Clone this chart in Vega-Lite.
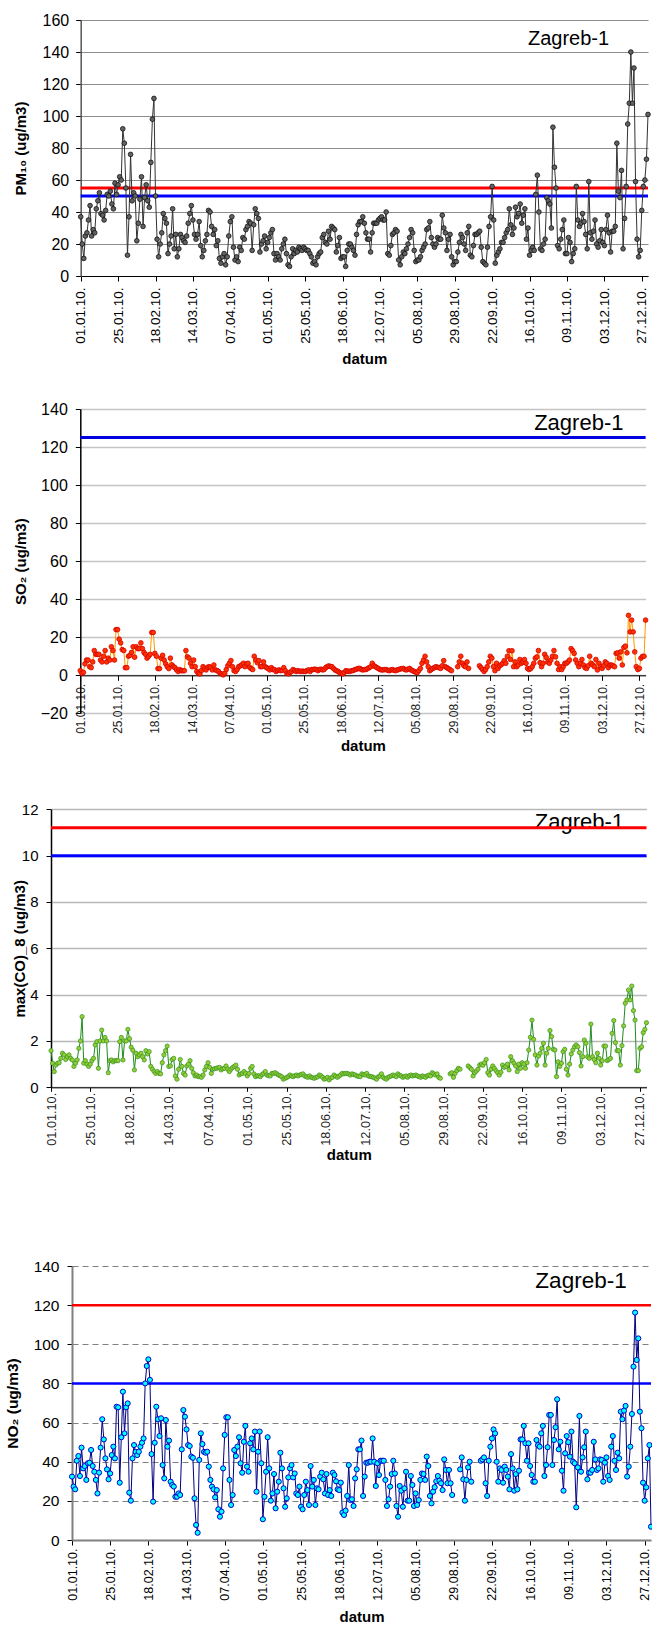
{
  "$schema": "https://vega.github.io/schema/vega-lite/v6.json",
  "width": 652,
  "height": 1625,
  "autosize": {"type": "none"},
  "padding": 0,
  "background": "white",
  "config": {
    "font": "Liberation Sans",
    "view": {"stroke": null},
    "axis": {
      "labelFont": "Liberation Sans",
      "titleFont": "Liberation Sans",
      "labelColor": "#000000",
      "titleColor": "#000000",
      "tickColor": "#000000",
      "domainColor": "#000000",
      "labelOverlap": false
    }
  },
  "data": {
    "values": [
      {"d":"2010-01-01","pm":37,"so":2.4,"co":1.58,"no":32.4},
      {"d":"2010-01-02","pm":20,"so":1,"co":1.04,"no":27.3},
      {"d":"2010-01-03","pm":11,"so":1.5,"co":0.68,"no":25.9},
      {"d":"2010-01-04","pm":25,"so":6,"co":0.96,"no":40.5},
      {"d":"2010-01-05","pm":27,"so":8,"co":1.04,"no":42.9},
      {"d":"2010-01-06","pm":35,"so":8,"co":1.06,"no":32.7},
      {"d":"2010-01-07","pm":44,"so":4.5,"co":1.25,"no":47.2},
      {"d":"2010-01-08","pm":25,"so":4,"co":1.47,"no":36.6},
      {"d":"2010-01-09","pm":29,"so":7,"co":1.4,"no":37.8},
      {"d":"2010-01-10","pm":27,"so":13,"co":1.2,"no":30.7},
      {"d":"2010-01-11","pm":42,"so":11,"co":1.32,"no":39.2},
      {"d":"2010-01-12","pm":47,"so":11,"co":1.4,"no":39.5},
      {"d":"2010-01-13","pm":52,"so":11,"co":1.25,"no":46},
      {"d":"2010-01-14","pm":39,"so":8,"co":1.18,"no":37.8},
      {"d":"2010-01-15","pm":38,"so":7,"co":0.9,"no":34.9},
      {"d":"2010-01-16","pm":35,"so":10,"co":1.04,"no":30.7},
      {"d":"2010-01-17","pm":41,"so":13,"co":1.18,"no":23.8},
      {"d":"2010-01-18","pm":51,"so":7,"co":1.68,"no":34.4},
      {"d":"2010-01-19","pm":50,"so":9,"co":2,"no":47.2},
      {"d":"2010-01-20","pm":53,"so":8,"co":3.05,"no":61.7},
      {"d":"2010-01-21","pm":45,"so":15,"co":1.04,"no":51.4},
      {"d":"2010-01-22","pm":42,"so":13,"co":1.15,"no":41.7},
      {"d":"2010-01-23","pm":58,"so":8,"co":1,"no":36.1},
      {"d":"2010-01-24","pm":51,"so":24,"co":0.9,"no":31},
      {"d":"2010-01-25","pm":57,"so":24,"co":1,"no":34},
      {"d":"2010-01-26","pm":62,"so":19,"co":1.15,"no":43.4},
      {"d":"2010-01-27","pm":60,"so":17,"co":1.25,"no":47.7},
      {"d":"2010-01-28","pm":92,"so":13.5,"co":1.83,"no":41.7},
      {"d":"2010-01-29","pm":83,"so":13,"co":1.97,"no":68.1},
      {"d":"2010-01-30","pm":55,"so":4,"co":0.82,"no":67.8},
      {"d":"2010-01-31","pm":13,"so":4,"co":2,"no":29.3},
      {"d":"2010-02-01","pm":37,"so":10,"co":2.47,"no":52.5},
      {"d":"2010-02-02","pm":76,"so":10.5,"co":2,"no":75.8},
      {"d":"2010-02-03","pm":47,"so":12,"co":2.15,"no":54.5},
      {"d":"2010-02-04","pm":52,"so":15,"co":2,"no":67.8},
      {"d":"2010-02-05","pm":50,"so":9.5,"co":0.63,"no":69.8},
      {"d":"2010-02-06","pm":22,"so":15,"co":1.15,"no":24.2},
      {"d":"2010-02-07","pm":33,"so":14,"co":1.18,"no":20.1},
      {"d":"2010-02-08","pm":48,"so":14,"co":1.1,"no":41.7},
      {"d":"2010-02-09","pm":62,"so":17,"co":1.15,"no":48.5},
      {"d":"2010-02-10","pm":31,"so":14,"co":1.15,"no":45},
      {"d":"2010-02-11","pm":49,"so":12,"co":1.15,"no":43.4},
      {"d":"2010-02-12","pm":57,"so":11,"co":1.97,"no":45.1},
      {"d":"2010-02-13","pm":47,"so":9,"co":2.15,"no":47.7},
      {"d":"2010-02-14","pm":43,"so":10,"co":1.18,"no":49.7},
      {"d":"2010-02-15","pm":71,"so":11,"co":2,"no":51.9},
      {"d":"2010-02-16","pm":98,"so":22.5,"co":2,"no":80},
      {"d":"2010-02-17","pm":111,"so":22.5,"co":2.5,"no":88.9},
      {"d":"2010-02-18","pm":50,"so":11.5,"co":2.1,"no":92.3},
      {"d":"2010-02-19","pm":23,"so":10,"co":1.73,"no":81.8},
      {"d":"2010-02-20","pm":12,"so":3.5,"co":1.6,"no":43.9},
      {"d":"2010-02-21","pm":20,"so":3.5,"co":0.75,"no":19.6},
      {"d":"2010-02-22","pm":27,"so":9,"co":1.47,"no":49.7},
      {"d":"2010-02-23","pm":39,"so":10.5,"co":1.32,"no":68.1},
      {"d":"2010-02-24","pm":36,"so":8,"co":1.4,"no":61.7},
      {"d":"2010-02-25","pm":33,"so":6,"co":1.47,"no":53.1},
      {"d":"2010-02-26","pm":14,"so":4.5,"co":1.32,"no":62.2},
      {"d":"2010-02-27","pm":20,"so":3.5,"co":1.18,"no":38.3},
      {"d":"2010-02-28","pm":25,"so":9,"co":1.58,"no":31.5},
      {"d":"2010-03-01","pm":42,"so":5.5,"co":1.44,"no":61.3},
      {"d":"2010-03-02","pm":17,"so":4.5,"co":1.54,"no":47.7},
      {"d":"2010-03-03","pm":26,"so":4,"co":0.9,"no":50.8},
      {"d":"2010-03-04","pm":12,"so":2.8,"co":0.78,"no":29.8},
      {"d":"2010-03-05","pm":17,"so":2,"co":0.68,"no":28.1},
      {"d":"2010-03-06","pm":26,"so":3,"co":0.6,"no":27.3},
      {"d":"2010-03-07","pm":24,"so":2.4,"co":0.68,"no":22.1},
      {"d":"2010-03-08","pm":22,"so":2.4,"co":0.6,"no":22.1},
      {"d":"2010-03-09","pm":21,"so":2.4,"co":0.58,"no":23.8},
      {"d":"2010-03-10","pm":25,"so":13,"co":1.06,"no":23},
      {"d":"2010-03-11","pm":33,"so":9.7,"co":1.4,"no":46.3},
      {"d":"2010-03-12","pm":39,"so":9,"co":1.58,"no":66.4},
      {"d":"2010-03-13","pm":44,"so":6.3,"co":1.78,"no":63},
      {"d":"2010-03-14","pm":35,"so":4.5,"co":0.9,"no":56.5},
      {"d":"2010-03-15","pm":26,"so":8,"co":0.92,"no":48.5},
      {"d":"2010-03-16","pm":23,"so":4.5,"co":1.2,"no":48},
      {"d":"2010-03-17","pm":26,"so":2,"co":1.25,"no":42.6},
      {"d":"2010-03-18","pm":34,"so":1,"co":0.49,"no":42},
      {"d":"2010-03-19","pm":19,"so":0.7,"co":0.35,"no":21.3},
      {"d":"2010-03-20","pm":12,"so":2.5,"co":0.78,"no":7.7},
      {"d":"2010-03-21","pm":16,"so":4.5,"co":1.2,"no":3.7},
      {"d":"2010-03-22","pm":22,"so":3.5,"co":0.9,"no":40.9},
      {"d":"2010-03-23","pm":26,"so":2.8,"co":0.6,"no":54.5},
      {"d":"2010-03-24","pm":41,"so":4.2,"co":0.53,"no":49},
      {"d":"2010-03-25","pm":40,"so":4.5,"co":0.92,"no":45},
      {"d":"2010-03-26","pm":31,"so":4,"co":1,"no":44.6},
      {"d":"2010-03-27","pm":26,"so":2.8,"co":1.15,"no":45.1},
      {"d":"2010-03-28","pm":29,"so":5.4,"co":0.82,"no":37.5},
      {"d":"2010-03-29","pm":19,"so":2.8,"co":0.63,"no":30.7},
      {"d":"2010-03-30","pm":22,"so":2.5,"co":0.49,"no":27.3},
      {"d":"2010-03-31","pm":11,"so":2,"co":0.53,"no":25.9},
      {"d":"2010-04-01","pm":8,"so":1,"co":0.46,"no":21.8},
      {"d":"2010-04-02","pm":12,"so":0.7,"co":0.46,"no":25.5},
      {"d":"2010-04-03","pm":14,"so":0.2,"co":0.43,"no":15.7},
      {"d":"2010-04-04","pm":7,"so":1,"co":0.53,"no":11.9},
      {"d":"2010-04-05","pm":12,"so":3,"co":0.75,"no":14.5},
      {"d":"2010-04-06","pm":25,"so":5,"co":0.9,"no":36.6},
      {"d":"2010-04-07","pm":34,"so":6.3,"co":1.06,"no":53.7},
      {"d":"2010-04-08","pm":37,"so":7.7,"co":0.86,"no":62.7},
      {"d":"2010-04-09","pm":18,"so":4.5,"co":0.6,"no":62.7},
      {"d":"2010-04-10","pm":10,"so":2.4,"co":0.78,"no":30.7},
      {"d":"2010-04-11","pm":12,"so":2,"co":0.8,"no":17.9},
      {"d":"2010-04-12","pm":9,"so":3,"co":0.82,"no":23},
      {"d":"2010-04-13","pm":18,"so":4.5,"co":0.84,"no":46},
      {"d":"2010-04-14","pm":16,"so":4.9,"co":0.86,"no":42.9},
      {"d":"2010-04-15","pm":24,"so":5.5,"co":0.75,"no":47.7},
      {"d":"2010-04-16","pm":23,"so":6.3,"co":0.8,"no":52.5},
      {"d":"2010-04-17","pm":29,"so":4.5,"co":0.82,"no":39.2},
      {"d":"2010-04-18","pm":31,"so":6,"co":0.92,"no":34.4},
      {"d":"2010-04-19","pm":34,"so":6.3,"co":0.78,"no":50.2},
      {"d":"2010-04-20","pm":33,"so":4.2,"co":0.68,"no":58.3},
      {"d":"2010-04-21","pm":16,"so":3.5,"co":0.78,"no":37.5},
      {"d":"2010-04-22","pm":32,"so":3,"co":0.85,"no":34.9},
      {"d":"2010-04-23","pm":42,"so":10,"co":0.9,"no":49.4},
      {"d":"2010-04-24","pm":39,"so":8,"co":0.96,"no":51.9},
      {"d":"2010-04-25","pm":36,"so":6.6,"co":0.78,"no":46.3},
      {"d":"2010-04-26","pm":15,"so":7.7,"co":0.53,"no":55.4},
      {"d":"2010-04-27","pm":20,"so":4.5,"co":0.58,"no":24.7},
      {"d":"2010-04-28","pm":22,"so":4.5,"co":0.6,"no":45.1},
      {"d":"2010-04-29","pm":25,"so":7,"co":0.68,"no":55.4},
      {"d":"2010-04-30","pm":17,"so":4.5,"co":0.6,"no":39.2},
      {"d":"2010-05-01","pm":21,"so":4,"co":0.49,"no":10.6},
      {"d":"2010-05-02","pm":24,"so":3.5,"co":0.6,"no":22.1},
      {"d":"2010-05-03","pm":27,"so":2.8,"co":0.82,"no":34.9},
      {"d":"2010-05-04","pm":29,"so":4,"co":0.9,"no":52.5},
      {"d":"2010-05-05","pm":14,"so":3,"co":0.58,"no":36.6},
      {"d":"2010-05-06","pm":10,"so":3,"co":0.46,"no":20.1},
      {"d":"2010-05-07","pm":14,"so":2,"co":0.5,"no":23.8},
      {"d":"2010-05-08","pm":12,"so":2.5,"co":0.49,"no":33.7},
      {"d":"2010-05-09","pm":10,"so":2.8,"co":0.46,"no":16.2},
      {"d":"2010-05-10","pm":17,"so":2.4,"co":0.55,"no":24.7},
      {"d":"2010-05-11","pm":20,"so":2.6,"co":0.6,"no":29.8},
      {"d":"2010-05-12","pm":23,"so":4,"co":0.68,"no":44.6},
      {"d":"2010-05-13","pm":14,"so":2.4,"co":0.53,"no":36.6},
      {"d":"2010-05-14","pm":7,"so":1,"co":0.5,"no":26.4},
      {"d":"2010-05-15","pm":6,"so":0.7,"co":0.49,"no":17},
      {"d":"2010-05-16","pm":12,"so":1.5,"co":0.6,"no":21.3},
      {"d":"2010-05-17","pm":17,"so":2,"co":0.6,"no":32},
      {"d":"2010-05-18","pm":14,"so":3,"co":0.63,"no":36.6},
      {"d":"2010-05-19","pm":16,"so":2.5,"co":0.58,"no":38.3},
      {"d":"2010-05-20","pm":15,"so":2,"co":0.53,"no":32},
      {"d":"2010-05-21","pm":18,"so":2.4,"co":0.5,"no":34},
      {"d":"2010-05-22","pm":17,"so":2.2,"co":0.46,"no":23.8},
      {"d":"2010-05-23","pm":16,"so":2,"co":0.35,"no":23},
      {"d":"2010-05-24","pm":18,"so":2.2,"co":0.39,"no":27.3},
      {"d":"2010-05-25","pm":17,"so":2,"co":0.42,"no":17},
      {"d":"2010-05-26","pm":16,"so":2,"co":0.46,"no":15.7},
      {"d":"2010-05-27","pm":16,"so":2.5,"co":0.53,"no":23},
      {"d":"2010-05-28","pm":14,"so":2.8,"co":0.49,"no":29.8},
      {"d":"2010-05-29","pm":12,"so":2,"co":0.46,"no":25.5},
      {"d":"2010-05-30","pm":8,"so":3,"co":0.5,"no":17.9},
      {"d":"2010-05-31","pm":9,"so":3,"co":0.53,"no":37.8},
      {"d":"2010-06-01","pm":7,"so":3.2,"co":0.49,"no":27.3},
      {"d":"2010-06-02","pm":12,"so":3,"co":0.53,"no":30.7},
      {"d":"2010-06-03","pm":14,"so":2.4,"co":0.55,"no":17.9},
      {"d":"2010-06-04","pm":15,"so":3,"co":0.58,"no":26.4},
      {"d":"2010-06-05","pm":24,"so":3.2,"co":0.49,"no":25.9},
      {"d":"2010-06-06","pm":26,"so":2.8,"co":0.46,"no":32.4},
      {"d":"2010-06-07","pm":21,"so":3,"co":0.43,"no":34.4},
      {"d":"2010-06-08","pm":20,"so":4,"co":0.49,"no":31},
      {"d":"2010-06-09","pm":28,"so":4.5,"co":0.43,"no":23.8},
      {"d":"2010-06-10","pm":23,"so":4.9,"co":0.41,"no":33.7},
      {"d":"2010-06-11","pm":31,"so":4.6,"co":0.39,"no":23},
      {"d":"2010-06-12","pm":30,"so":4.5,"co":0.43,"no":25.5},
      {"d":"2010-06-13","pm":29,"so":3.6,"co":0.45,"no":22.5},
      {"d":"2010-06-14","pm":15,"so":2.8,"co":0.53,"no":34.4},
      {"d":"2010-06-15","pm":19,"so":2.4,"co":0.5,"no":33.2},
      {"d":"2010-06-16","pm":24,"so":2,"co":0.43,"no":30},
      {"d":"2010-06-17","pm":11,"so":1.4,"co":0.35,"no":25.9},
      {"d":"2010-06-18","pm":12,"so":1,"co":0.38,"no":25.5},
      {"d":"2010-06-19","pm":12,"so":0.7,"co":0.43,"no":29.3},
      {"d":"2010-06-20","pm":6,"so":1.5,"co":0.32,"no":14},
      {"d":"2010-06-21","pm":16,"so":2.4,"co":0.4,"no":12.8},
      {"d":"2010-06-22","pm":20,"so":2.2,"co":0.43,"no":15},
      {"d":"2010-06-23","pm":20,"so":2,"co":0.53,"no":22.5},
      {"d":"2010-06-24","pm":18,"so":2.2,"co":0.48,"no":38.3},
      {"d":"2010-06-25","pm":16,"so":2.4,"co":0.43,"no":20.4},
      {"d":"2010-06-26","pm":13,"so":2.6,"co":0.48,"no":20.8},
      {"d":"2010-06-27","pm":26,"so":3,"co":0.53,"no":17.4},
      {"d":"2010-06-28","pm":32,"so":3.2,"co":0.6,"no":31.5},
      {"d":"2010-06-29","pm":34,"so":3.6,"co":0.58,"no":36.1},
      {"d":"2010-06-30","pm":34,"so":3.6,"co":0.6,"no":46.3},
      {"d":"2010-07-01","pm":37,"so":3,"co":0.6,"no":46.3},
      {"d":"2010-07-02","pm":33,"so":2.8,"co":0.57,"no":50.8},
      {"d":"2010-07-03","pm":27,"so":3,"co":0.53,"no":22.5},
      {"d":"2010-07-04","pm":23,"so":3,"co":0.58,"no":32.4},
      {"d":"2010-07-05","pm":23,"so":3.5,"co":0.55,"no":39.5},
      {"d":"2010-07-06","pm":15,"so":4,"co":0.53,"no":39.5},
      {"d":"2010-07-07","pm":27,"so":4.5,"co":0.49,"no":40},
      {"d":"2010-07-08","pm":33,"so":6.3,"co":0.47,"no":40},
      {"d":"2010-07-09","pm":33,"so":5,"co":0.46,"no":51.9},
      {"d":"2010-07-10","pm":33,"so":4.5,"co":0.58,"no":40},
      {"d":"2010-07-11","pm":35,"so":4,"co":0.55,"no":27.6},
      {"d":"2010-07-12","pm":36,"so":3.5,"co":0.53,"no":39.2},
      {"d":"2010-07-13","pm":37,"so":3,"co":0.6,"no":33.2},
      {"d":"2010-07-14","pm":35,"so":2.8,"co":0.49,"no":40.5},
      {"d":"2010-07-15","pm":35,"so":2.8,"co":0.47,"no":40.5},
      {"d":"2010-07-16","pm":40,"so":3,"co":0.46,"no":40.5},
      {"d":"2010-07-17","pm":14,"so":3,"co":0.43,"no":30.7},
      {"d":"2010-07-18","pm":13,"so":2.6,"co":0.4,"no":17.4},
      {"d":"2010-07-19","pm":19,"so":2.4,"co":0.35,"no":20.8},
      {"d":"2010-07-20","pm":26,"so":2.8,"co":0.45,"no":27.3},
      {"d":"2010-07-21","pm":27,"so":3,"co":0.49,"no":33.7},
      {"d":"2010-07-22","pm":29,"so":2.6,"co":0.58,"no":40.5},
      {"d":"2010-07-23","pm":28,"so":2.4,"co":0.43,"no":34},
      {"d":"2010-07-24","pm":10,"so":2.8,"co":0.38,"no":17.4},
      {"d":"2010-07-25","pm":7,"so":3,"co":0.35,"no":11.9},
      {"d":"2010-07-26","pm":12,"so":3.3,"co":0.43,"no":27.6},
      {"d":"2010-07-27","pm":15,"so":3.5,"co":0.46,"no":25.2},
      {"d":"2010-07-28","pm":14,"so":3.6,"co":0.49,"no":17},
      {"d":"2010-07-29","pm":17,"so":3,"co":0.53,"no":26.4},
      {"d":"2010-07-30","pm":20,"so":2.8,"co":0.5,"no":34.9},
      {"d":"2010-07-31","pm":24,"so":3.2,"co":0.46,"no":20.1},
      {"d":"2010-08-01","pm":29,"so":3.6,"co":0.58,"no":20.1},
      {"d":"2010-08-02","pm":27,"so":2.8,"co":0.52,"no":32.7},
      {"d":"2010-08-03","pm":16,"so":2.4,"co":0.49,"no":28.1},
      {"d":"2010-08-04","pm":9,"so":2,"co":0.43,"no":17.4},
      {"d":"2010-08-05","pm":10,"so":1.6,"co":0.46,"no":23.8},
      {"d":"2010-08-06","pm":10,"so":1.4,"co":0.49,"no":17.9},
      {"d":"2010-08-07","pm":12,"so":2.5,"co":0.43,"no":20.4},
      {"d":"2010-08-08","pm":16,"so":3.6,"co":0.5,"no":30.7},
      {"d":"2010-08-09","pm":18,"so":6.3,"co":0.53,"no":34},
      {"d":"2010-08-10","pm":20,"so":8,"co":0.49,"no":33.7},
      {"d":"2010-08-11","pm":29,"so":10,"co":0.51,"no":30.7},
      {"d":"2010-08-12","pm":30,"so":7,"co":0.53,"no":42.6},
      {"d":"2010-08-13","pm":34,"so":4.5,"co":0.49,"no":37.8},
      {"d":"2010-08-14","pm":24,"so":2.4,"co":0.46,"no":22.5},
      {"d":"2010-08-15","pm":20,"so":3,"co":0.43,"no":18.7},
      {"d":"2010-08-16","pm":18,"so":3.6,"co":0.49,"no":24.7},
      {"d":"2010-08-17","pm":20,"so":4,"co":0.46,"no":27},
      {"d":"2010-08-18","pm":24,"so":4.5,"co":0.43,"no":30},
      {"d":"2010-08-19","pm":23,"so":4.2,"co":0.5,"no":32.7},
      {"d":"2010-08-20","pm":23,"so":4,"co":0.53,"no":30.3},
      {"d":"2010-08-21","pm":38,"so":3.6,"co":0.49,"no":29},
      {"d":"2010-08-22","pm":30,"so":5,"co":0.63,"no":25.5},
      {"d":"2010-08-23","pm":27,"so":7.7,"co":0.58,"no":41.2},
      {"d":"2010-08-24","pm":16,"so":4.5,"co":0.53,"no":35.8},
      {"d":"2010-08-25","pm":23,"so":4,"co":0.58,"no":29},
      {"d":"2010-08-26","pm":26,"so":3.5,"co":0.43,"no":35.8},
      {"d":"2010-08-27","pm":12,"so":3,"co":0.39,"no":29},
      {"d":"2010-08-28","pm":7,"so":2.4,"co":null,"no":23},
      {"d":"2010-08-29","pm":9,"so":null,"co":null,"no":null},
      {"d":"2010-08-30","pm":9,"so":null,"co":null,"no":null},
      {"d":"2010-08-31","pm":15,"so":null,"co":null,"no":null},
      {"d":"2010-09-01","pm":21,"so":4.5,"co":null,"no":null},
      {"d":"2010-09-02","pm":26,"so":7,"co":0.58,"no":36.1},
      {"d":"2010-09-03","pm":24,"so":10,"co":0.63,"no":42.2},
      {"d":"2010-09-04","pm":20,"so":6.3,"co":0.43,"no":31},
      {"d":"2010-09-05","pm":16,"so":5,"co":0.6,"no":20.1},
      {"d":"2010-09-06","pm":27,"so":4.5,"co":0.72,"no":30.7},
      {"d":"2010-09-07","pm":31,"so":7,"co":0.82,"no":37.1},
      {"d":"2010-09-08","pm":13,"so":3.6,"co":0.78,"no":40},
      {"d":"2010-09-09","pm":12,"so":null,"co":null,"no":29.8},
      {"d":"2010-09-10","pm":19,"so":null,"co":null,"no":null},
      {"d":"2010-09-11","pm":26,"so":null,"co":null,"no":null},
      {"d":"2010-09-12","pm":26,"so":null,"co":null,"no":null},
      {"d":"2010-09-13","pm":27,"so":null,"co":0.92,"no":null},
      {"d":"2010-09-14","pm":28,"so":null,"co":0.85,"no":null},
      {"d":"2010-09-15","pm":18,"so":5,"co":0.78,"no":40.5},
      {"d":"2010-09-16","pm":9,"so":4,"co":0.49,"no":41.2},
      {"d":"2010-09-17","pm":8,"so":3,"co":0.63,"no":42.2},
      {"d":"2010-09-18","pm":7,"so":2,"co":0.7,"no":29},
      {"d":"2010-09-19","pm":18,"so":3,"co":0.78,"no":22.5},
      {"d":"2010-09-20","pm":31,"so":4.5,"co":0.96,"no":40.5},
      {"d":"2010-09-21","pm":37,"so":7,"co":1,"no":47.7},
      {"d":"2010-09-22","pm":56,"so":10,"co":0.95,"no":51.9},
      {"d":"2010-09-23","pm":35,"so":9,"co":1.06,"no":56.5},
      {"d":"2010-09-24","pm":8,"so":4.5,"co":1.2,"no":54.5},
      {"d":"2010-09-25","pm":13,"so":2.4,"co":0.63,"no":40},
      {"d":"2010-09-26","pm":15,"so":6.3,"co":0.53,"no":29.8},
      {"d":"2010-09-27","pm":17,"so":3.6,"co":0.78,"no":36.6},
      {"d":"2010-09-28","pm":21,"so":5,"co":0.92,"no":35.8},
      {"d":"2010-09-29","pm":21,"so":5.5,"co":0.82,"no":29.3},
      {"d":"2010-09-30","pm":24,"so":6.3,"co":0.72,"no":37.5},
      {"d":"2010-10-01","pm":27,"so":7.7,"co":0.63,"no":35.8},
      {"d":"2010-10-02","pm":29,"so":6.3,"co":0.53,"no":32.4},
      {"d":"2010-10-03","pm":42,"so":10,"co":0.65,"no":25.9},
      {"d":"2010-10-04","pm":32,"so":12.9,"co":0.96,"no":43.9},
      {"d":"2010-10-05","pm":26,"so":8.3,"co":0.86,"no":36.6},
      {"d":"2010-10-06","pm":30,"so":12.9,"co":0.9,"no":25.2},
      {"d":"2010-10-07","pm":43,"so":4.5,"co":1,"no":33.7},
      {"d":"2010-10-08","pm":37,"so":7,"co":0.75,"no":25.9},
      {"d":"2010-10-09","pm":39,"so":4.5,"co":1.32,"no":35.4},
      {"d":"2010-10-10","pm":45,"so":5.4,"co":1.15,"no":51.4},
      {"d":"2010-10-11","pm":33,"so":8.3,"co":1.04,"no":51.4},
      {"d":"2010-10-12","pm":38,"so":6.3,"co":0.92,"no":58.3},
      {"d":"2010-10-13","pm":42,"so":7,"co":0.68,"no":49.4},
      {"d":"2010-10-14","pm":23,"so":8.3,"co":1,"no":40.5},
      {"d":"2010-10-15","pm":30,"so":6.3,"co":0.82,"no":49.4},
      {"d":"2010-10-16","pm":13,"so":3.6,"co":1.06,"no":37.8},
      {"d":"2010-10-17","pm":16,"so":3,"co":1,"no":33.2},
      {"d":"2010-10-18","pm":18,"so":3.5,"co":0.82,"no":29.8},
      {"d":"2010-10-19","pm":16,"so":4.5,"co":1.06,"no":29.8},
      {"d":"2010-10-20","pm":51,"so":6.3,"co":1.61,"no":51.1},
      {"d":"2010-10-21","pm":63,"so":9,"co":2.16,"no":48.5},
      {"d":"2010-10-22","pm":40,"so":9.7,"co":2.9,"no":47.7},
      {"d":"2010-10-23","pm":17,"so":13,"co":2.07,"no":54.5},
      {"d":"2010-10-24","pm":16,"so":6.6,"co":1.4,"no":58.3},
      {"d":"2010-10-25","pm":20,"so":4.5,"co":0.96,"no":32.7},
      {"d":"2010-10-26","pm":23,"so":6.3,"co":1.35,"no":38.3},
      {"d":"2010-10-27","pm":49,"so":11,"co":1.47,"no":47.4},
      {"d":"2010-10-28","pm":47,"so":9.4,"co":1.68,"no":63.9},
      {"d":"2010-10-29","pm":45,"so":7,"co":1.9,"no":63.9},
      {"d":"2010-10-30","pm":30,"so":6.3,"co":0.96,"no":38.3},
      {"d":"2010-10-31","pm":93,"so":8,"co":1.47,"no":51.1},
      {"d":"2010-11-01","pm":68,"so":10,"co":1.68,"no":57.6},
      {"d":"2010-11-02","pm":55,"so":13,"co":2.45,"no":71.9},
      {"d":"2010-11-03","pm":19,"so":9.7,"co":2.19,"no":46.3},
      {"d":"2010-11-04","pm":17,"so":6.3,"co":1.64,"no":50.2},
      {"d":"2010-11-05","pm":23,"so":3,"co":1.61,"no":35.4},
      {"d":"2010-11-06","pm":29,"so":4.5,"co":0.46,"no":25.2},
      {"d":"2010-11-07","pm":35,"so":3,"co":1.1,"no":44.3},
      {"d":"2010-11-08","pm":14,"so":4.5,"co":0.9,"no":53.1},
      {"d":"2010-11-09","pm":14,"so":6.3,"co":1.04,"no":50},
      {"d":"2010-11-10","pm":24,"so":6.3,"co":1.54,"no":42.6},
      {"d":"2010-11-11","pm":21,"so":7,"co":1.64,"no":55.4},
      {"d":"2010-11-12","pm":9,"so":8,"co":0.78,"no":40},
      {"d":"2010-11-13","pm":14,"so":14,"co":0.53,"no":39.2},
      {"d":"2010-11-14","pm":17,"so":13,"co":1,"no":16.7},
      {"d":"2010-11-15","pm":56,"so":11.5,"co":1.44,"no":37.1},
      {"d":"2010-11-16","pm":35,"so":8,"co":1.61,"no":63.4},
      {"d":"2010-11-17","pm":31,"so":6.3,"co":1.75,"no":34.9},
      {"d":"2010-11-18","pm":33,"so":4.5,"co":1.83,"no":42.2},
      {"d":"2010-11-19","pm":39,"so":6.3,"co":1.75,"no":47.4},
      {"d":"2010-11-20","pm":34,"so":8.3,"co":1.5,"no":55.4},
      {"d":"2010-11-21","pm":26,"so":5.4,"co":0.92,"no":31},
      {"d":"2010-11-22","pm":17,"so":4,"co":1.32,"no":34.4},
      {"d":"2010-11-23","pm":59,"so":3.6,"co":2.04,"no":34.4},
      {"d":"2010-11-24","pm":27,"so":5,"co":1.9,"no":35.8},
      {"d":"2010-11-25","pm":23,"so":10,"co":1.32,"no":50.2},
      {"d":"2010-11-26","pm":28,"so":6.3,"co":1.25,"no":41.2},
      {"d":"2010-11-27","pm":35,"so":5.4,"co":2.73,"no":35.8},
      {"d":"2010-11-28","pm":20,"so":4.5,"co":1.32,"no":36.6},
      {"d":"2010-11-29","pm":18,"so":8.3,"co":1.2,"no":41.2},
      {"d":"2010-11-30","pm":22,"so":2.8,"co":1.06,"no":40.9},
      {"d":"2010-12-01","pm":29,"so":6.3,"co":1.47,"no":29.8},
      {"d":"2010-12-02","pm":21,"so":4.5,"co":1.25,"no":39.5},
      {"d":"2010-12-03","pm":19,"so":3.6,"co":0.96,"no":42.2},
      {"d":"2010-12-04","pm":29,"so":5,"co":1.15,"no":32.7},
      {"d":"2010-12-05","pm":38,"so":7,"co":1.78,"no":30.7},
      {"d":"2010-12-06","pm":27,"so":6.3,"co":1.78,"no":47.7},
      {"d":"2010-12-07","pm":15,"so":4,"co":1.15,"no":53.1},
      {"d":"2010-12-08","pm":28,"so":5.4,"co":1.2,"no":40.5},
      {"d":"2010-12-09","pm":28,"so":5.4,"co":1.25,"no":35.8},
      {"d":"2010-12-10","pm":31,"so":5,"co":2.33,"no":44.6},
      {"d":"2010-12-11","pm":83,"so":4.5,"co":2.88,"no":41.7},
      {"d":"2010-12-12","pm":53,"so":11.5,"co":1.93,"no":65.6},
      {"d":"2010-12-13","pm":49,"so":11.8,"co":1.58,"no":61.7},
      {"d":"2010-12-14","pm":66,"so":9,"co":1.58,"no":66.1},
      {"d":"2010-12-15","pm":17,"so":12.3,"co":0.96,"no":68.5},
      {"d":"2010-12-16","pm":36,"so":5.4,"co":1.8,"no":32.4},
      {"d":"2010-12-17","pm":56,"so":14.6,"co":2.65,"no":37.5},
      {"d":"2010-12-18","pm":95,"so":15.3,"co":3.63,"no":47.7},
      {"d":"2010-12-19","pm":108,"so":11.8,"co":3.77,"no":64.4},
      {"d":"2010-12-20","pm":140,"so":31.5,"co":4.2,"no":88.6},
      {"d":"2010-12-21","pm":108,"so":22.8,"co":3.77,"no":116.2},
      {"d":"2010-12-22","pm":130,"so":29,"co":4.37,"no":92},
      {"d":"2010-12-23","pm":59,"so":22.8,"co":3.31,"no":103},
      {"d":"2010-12-24","pm":23,"so":12.3,"co":2.9,"no":65.6},
      {"d":"2010-12-25","pm":12,"so":4.5,"co":0.72,"no":57.1},
      {"d":"2010-12-26","pm":16,"so":3,"co":0.72,"no":29.3},
      {"d":"2010-12-27","pm":41,"so":3.6,"co":1.68,"no":20.1},
      {"d":"2010-12-28","pm":56,"so":9,"co":1.75,"no":26.9},
      {"d":"2010-12-29","pm":60,"so":9.9,"co":2.36,"no":41.7},
      {"d":"2010-12-30","pm":73,"so":10,"co":2.5,"no":48.5},
      {"d":"2010-12-31","pm":101,"so":29,"co":2.79,"no":6.8}
    ]
  },
  "layer": [
    {
      "data": {"values": [{"limit": 55}, {"limit": 50}]},
      "mark": {"type": "rule", "strokeWidth": 3},
      "encoding": {
        "y": {"field": "limit", "type": "quantitative", "scale": {"domain": [0, 160], "range": [276, 20], "nice": false, "zero": false}, "axis": null},
        "x": {"datum": 1262304000000, "type": "temporal", "scale": {"type": "utc", "domain": [1262304000000, 1293753600000], "range": [80.7, 648]}, "axis": null},
        "x2": {"datum": 1293753600000},
        "color": {"field": "limit", "type": "nominal", "scale": {"domain": [55, 50], "range": ["#FF0000", "#0000FF"]}, "legend": null}
      }
    },
    {
      "mark": {"type": "line", "color": "#333333", "strokeWidth": 1,
               "point": {"filled": true, "fill": "#626262", "stroke": "#111111", "strokeWidth": 0.8, "size": 22, "opacity": 1}},
      "encoding": {
        "x": {
          "field": "d", "type": "temporal",
          "scale": {"type": "utc", "domain": [1262304000000, 1293753600000], "range": [80.7, 648]},
          "axis": {
            "orient": "bottom", "offset": -1349, "grid": false,
            "values": [1262304000000, 1264377600000, 1266451200000, 1268524800000, 1270598400000, 1272672000000, 1274745600000, 1276819200000, 1278892800000, 1280966400000, 1283040000000, 1285113600000, 1287187200000, 1289260800000, 1291334400000, 1293408000000],
            "labelExpr": "utcFormat(datum.value, '%d.%m.%y.')",
            "labelAngle": -90, "labelFontSize": 13.5, "labelPadding": 6, "tickSize": 5,
            "title": "datum", "titleFontSize": 15, "titleFontWeight": "bold", "titlePadding": 8
          }
        },
        "y": {
          "field": "pm", "type": "quantitative",
          "scale": {"domain": [0, 160], "range": [276, 20], "nice": false, "zero": false},
          "axis": {
            "orient": "left", "offset": -80.7, "values": [0, 20, 40, 60, 80, 100, 120, 140, 160],
            "grid": true, "gridColor": "#8c8c8c", "gridWidth": 1,
            "domainColor": "#555555", "domainWidth": 1.5, "tickSize": 5,
            "labelFontSize": 16, "labelPadding": 7,
            "title": "PM₁₀ (ug/m3)", "titleFontSize": 15, "titleFontWeight": "bold", "titlePadding": 14
          }
        }
      }
    },
    {
      "data": {"values": [{"station": "Zagreb-1"}]},
      "mark": {"type": "text", "fontSize": 20, "font": "Liberation Sans", "color": "#000000", "align": "center", "baseline": "middle"},
      "encoding": {
        "text": {"field": "station"},
        "x": {"datum": 1289347200000, "type": "temporal", "scale": {"type": "utc", "domain": [1262304000000, 1293753600000], "range": [80.7, 648]}, "axis": null},
        "y": {"datum": 148, "type": "quantitative", "scale": {"domain": [0, 160], "range": [276, 20], "nice": false, "zero": false}, "axis": null}
      }
    },
    {
      "data": {"values": [{"limit": 125}]},
      "mark": {"type": "rule", "strokeWidth": 3, "color": "#0000E0"},
      "encoding": {
        "y": {"field": "limit", "type": "quantitative", "scale": {"domain": [-20, 140], "range": [713.3, 409], "nice": false, "zero": false}, "axis": null},
        "x": {"datum": 1262304000000, "type": "temporal", "scale": {"type": "utc", "domain": [1262304000000, 1293753600000], "range": [80.3, 645.6]}, "axis": null},
        "x2": {"datum": 1293753600000}
      }
    },
    {
      "mark": {"type": "line", "color": "#FF9900", "strokeWidth": 1,
               "point": {"filled": true, "fill": "#FF3300", "stroke": "#D40000", "strokeWidth": 0.8, "size": 22, "opacity": 1}},
      "encoding": {
        "x": {
          "field": "d", "type": "temporal",
          "scale": {"type": "utc", "domain": [1262304000000, 1293753600000], "range": [80.3, 645.6]},
          "axis": {
            "orient": "bottom", "offset": -949.7, "grid": false,
            "values": [1262304000000, 1264377600000, 1266451200000, 1268524800000, 1270598400000, 1272672000000, 1274745600000, 1276819200000, 1278892800000, 1280966400000, 1283040000000, 1285113600000, 1287187200000, 1289260800000, 1291334400000, 1293408000000],
            "labelExpr": "utcFormat(datum.value, '%d.%m.%y.')",
            "labelAngle": -90, "labelFontSize": 12, "labelPadding": 3, "tickSize": 5, "labelColor": "#222222",
            "title": "datum", "titleFontSize": 15, "titleFontWeight": "bold", "titlePadding": 5
          }
        },
        "y": {
          "field": "so", "type": "quantitative",
          "scale": {"domain": [-20, 140], "range": [713.3, 409], "nice": false, "zero": false},
          "axis": {
            "orient": "left", "offset": -80.3, "values": [-20, 0, 20, 40, 60, 80, 100, 120, 140],
            "grid": true, "gridColor": "#c4c4c4", "gridWidth": 1.5,
            "domainColor": "#000000", "domainWidth": 1.5, "tickSize": 5,
            "labelFontSize": 16, "labelPadding": 8,
            "title": "SO₂ (ug/m3)", "titleFontSize": 15, "titleFontWeight": "bold", "titlePadding": 12
          }
        }
      }
    },
    {
      "data": {"values": [{"station": "Zagreb-1"}]},
      "mark": {"type": "text", "fontSize": 22, "font": "Liberation Sans", "color": "#000000", "align": "center", "baseline": "middle"},
      "encoding": {
        "text": {"field": "station"},
        "x": {"datum": 1290038400000, "type": "temporal", "scale": {"type": "utc", "domain": [1262304000000, 1293753600000], "range": [80.3, 645.6]}, "axis": null},
        "y": {"datum": 132.6, "type": "quantitative", "scale": {"domain": [-20, 140], "range": [713.3, 409], "nice": false, "zero": false}, "axis": null}
      }
    },
    {
      "data": {"values": [{"station": "Zagreb-1"}]},
      "mark": {"type": "text", "fontSize": 22, "font": "Liberation Sans", "color": "#000000", "align": "center", "baseline": "middle"},
      "encoding": {
        "text": {"field": "station"},
        "x": {"datum": 1290211200000, "type": "temporal", "scale": {"type": "utc", "domain": [1262304000000, 1293753600000], "range": [51, 646.5]}, "axis": null},
        "y": {"datum": 11.45, "type": "quantitative", "scale": {"domain": [0, 12], "range": [1087.3, 809.3], "nice": false, "zero": false}, "axis": null}
      }
    },
    {
      "data": {"values": [{"limit": 11.2}, {"limit": 10}]},
      "mark": {"type": "rule", "strokeWidth": 3},
      "encoding": {
        "y": {"field": "limit", "type": "quantitative", "scale": {"domain": [0, 12], "range": [1087.3, 809.3], "nice": false, "zero": false}, "axis": null},
        "x": {"datum": 1262304000000, "type": "temporal", "scale": {"type": "utc", "domain": [1262304000000, 1293753600000], "range": [51, 646.5]}, "axis": null},
        "x2": {"datum": 1293753600000},
        "color": {"field": "limit", "type": "nominal", "scale": {"domain": [11.2, 10], "range": ["#FF0000", "#0000FF"]}, "legend": null}
      }
    },
    {
      "mark": {"type": "line", "color": "#1E8C1E", "strokeWidth": 1,
               "point": {"filled": true, "fill": "#99CC33", "stroke": "#3A9A2A", "strokeWidth": 0.8, "size": 18, "opacity": 1}},
      "encoding": {
        "x": {
          "field": "d", "type": "temporal",
          "scale": {"type": "utc", "domain": [1262304000000, 1293753600000], "range": [51, 646.5]},
          "axis": {
            "orient": "bottom", "offset": -537.7, "grid": false,
            "values": [1262304000000, 1264377600000, 1266451200000, 1268524800000, 1270598400000, 1272672000000, 1274745600000, 1276819200000, 1278892800000, 1280966400000, 1283040000000, 1285113600000, 1287187200000, 1289260800000, 1291334400000, 1293408000000],
            "labelExpr": "utcFormat(datum.value, '%d.%m.%y.')",
            "labelAngle": -90, "labelFontSize": 12.7, "labelPadding": 1, "tickSize": 4, "labelColor": "#222222",
            "title": "datum", "titleFontSize": 15, "titleFontWeight": "bold", "titlePadding": 2
          }
        },
        "y": {
          "field": "co", "type": "quantitative",
          "scale": {"domain": [0, 12], "range": [1087.3, 809.3], "nice": false, "zero": false},
          "axis": {
            "orient": "left", "offset": -51, "values": [0, 2, 4, 6, 8, 10, 12],
            "grid": true, "gridColor": "#b8b8b8", "gridWidth": 1.5,
            "domainColor": "#000000", "domainWidth": 1.5, "tickSize": 5,
            "labelFontSize": 15, "labelPadding": 8,
            "title": "max(CO)_8 (ug/m3)", "titleFontSize": 15, "titleFontWeight": "bold", "titlePadding": -6
          }
        }
      }
    },
    {
      "data": {"values": [{"limit": 120}, {"limit": 80}]},
      "mark": {"type": "rule", "strokeWidth": 2.5},
      "encoding": {
        "y": {"field": "limit", "type": "quantitative", "scale": {"domain": [0, 140], "range": [1540, 1266], "nice": false, "zero": false}, "axis": null},
        "x": {"datum": 1262304000000, "type": "temporal", "scale": {"type": "utc", "domain": [1262304000000, 1293753600000], "range": [72, 651]}, "axis": null},
        "x2": {"datum": 1293753600000},
        "color": {"field": "limit", "type": "nominal", "scale": {"domain": [120, 80], "range": ["#FF0000", "#0000FF"]}, "legend": null}
      }
    },
    {
      "mark": {"type": "line", "color": "#000080", "strokeWidth": 1,
               "point": {"filled": true, "fill": "#00FFFF", "stroke": "#0000CC", "strokeWidth": 1, "size": 26, "opacity": 1}},
      "encoding": {
        "x": {
          "field": "d", "type": "temporal",
          "scale": {"type": "utc", "domain": [1262304000000, 1293753600000], "range": [72, 651]},
          "axis": {
            "orient": "bottom", "offset": -85, "grid": false,
            "values": [1262304000000, 1264377600000, 1266451200000, 1268524800000, 1270598400000, 1272672000000, 1274745600000, 1276819200000, 1278892800000, 1280966400000, 1283040000000, 1285113600000, 1287187200000, 1289260800000, 1291334400000, 1293408000000],
            "labelExpr": "utcFormat(datum.value, '%d.%m.%y.')",
            "labelAngle": -90, "labelFontSize": 12.5, "labelPadding": 3, "tickSize": 5,
            "domainColor": "#808080", "domainWidth": 2,
            "title": "datum", "titleFontSize": 15, "titleFontWeight": "bold", "titlePadding": 9
          }
        },
        "y": {
          "field": "no", "type": "quantitative",
          "scale": {"domain": [0, 140], "range": [1540, 1266], "nice": false, "zero": false},
          "axis": {
            "orient": "left", "offset": -72, "values": [0, 20, 40, 60, 80, 100, 120, 140],
            "grid": true, "gridColor": "#808080", "gridWidth": 1, "gridDash": [6, 4],
            "domainColor": "#808080", "domainWidth": 2, "tickSize": 5,
            "labelFontSize": 15.5, "labelPadding": 8,
            "title": "NO₂ (ug/m3)", "titleFontSize": 15.5, "titleFontWeight": "bold", "titlePadding": 13
          }
        }
      }
    },
    {
      "data": {"values": [{"station": "Zagreb-1"}]},
      "mark": {"type": "text", "fontSize": 22.5, "font": "Liberation Sans", "color": "#000000", "align": "center", "baseline": "middle"},
      "encoding": {
        "text": {"field": "station"},
        "x": {"datum": 1289952000000, "type": "temporal", "scale": {"type": "utc", "domain": [1262304000000, 1293753600000], "range": [72, 651]}, "axis": null},
        "y": {"datum": 132.3, "type": "quantitative", "scale": {"domain": [0, 140], "range": [1540, 1266], "nice": false, "zero": false}, "axis": null}
      }
    }
  ],
  "resolve": {
    "scale": {"x": "independent", "y": "independent", "color": "independent"},
    "axis": {"x": "independent", "y": "independent"}
  }
}
